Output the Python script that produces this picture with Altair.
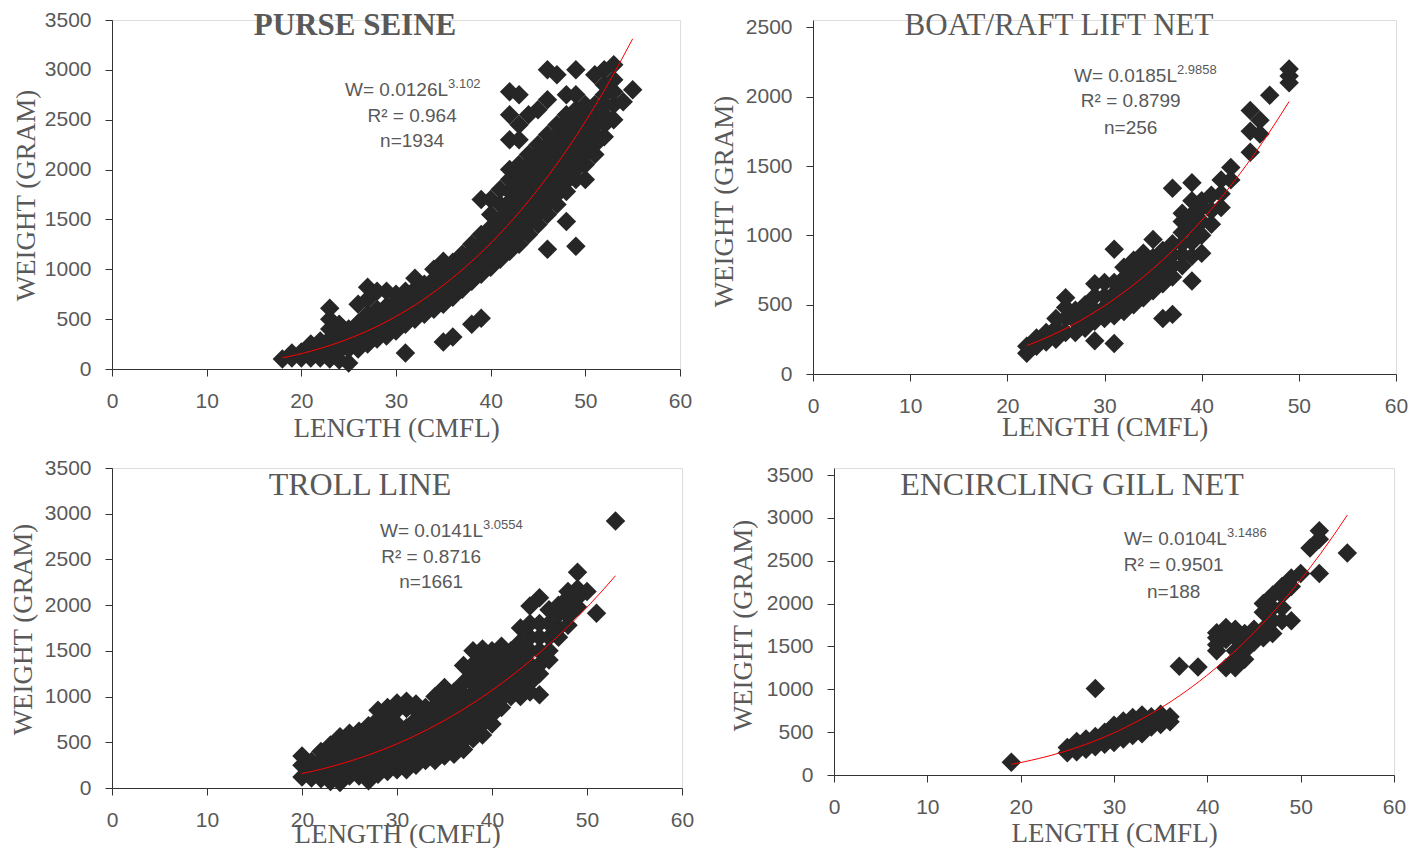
import altair as alt
import pandas as pd

# ---------------- data ----------------
# PURSE SEINE
PS_LEN = [18, 19, 20, 21, 22, 23, 24, 25, 26, 27, 28, 29, 30, 31, 32, 33, 34, 35, 36, 37,
          38, 39, 40, 41, 42, 43, 44, 45, 46, 47, 48, 49, 50, 51, 52, 53, 54, 55]
PS_WT = [
    [100], [110, 160], [110, 170], [110, 180, 250], [110, 200, 280],
    [100, 200, 300, 400, 500, 610], [90, 180, 280, 380, 450], [60, 200, 300, 400],
    [200, 300, 400, 460, 650], [250, 350, 450, 550, 700, 820], [300, 400, 500, 600, 780],
    [330, 430, 530, 630, 780], [380, 480, 580, 680, 750], [160, 450, 550, 650, 780],
    [500, 600, 700, 800, 910], [550, 650, 750, 850], [600, 700, 800, 900, 1000],
    [270, 650, 750, 850, 950, 1080], [320, 720, 820, 920, 1020, 1070],
    [800, 900, 1000, 1100, 1150], [450, 880, 980, 1080, 1180, 1250],
    [510, 950, 1050, 1150, 1250, 1350, 1700], [1020, 1120, 1220, 1320, 1420, 1550, 1700],
    [1100, 1200, 1300, 1400, 1500, 1650, 1800],
    [1180, 1280, 1380, 1480, 1580, 1680, 1780, 1900, 2000, 2300, 2550, 2780],
    [1250, 1350, 1450, 1550, 1650, 1750, 1850, 1950, 2050, 2300, 2450, 2750],
    [1350, 1450, 1550, 1650, 1750, 1850, 1950, 2050, 2150, 2550],
    [1450, 1550, 1650, 1750, 1850, 1950, 2050, 2150, 2250, 2600],
    [1200, 1550, 1650, 1750, 1850, 1950, 2050, 2150, 2250, 2350, 2700, 3000],
    [1650, 1750, 1850, 1950, 2050, 2150, 2250, 2350, 2450, 2950],
    [1480, 1780, 1880, 1980, 2080, 2180, 2280, 2380, 2480, 2550, 2750],
    [1230, 1900, 2000, 2100, 2200, 2300, 2400, 2500, 2600, 2750, 3000],
    [1900, 2050, 2150, 2250, 2350, 2450, 2550, 2650],
    [2150, 2250, 2350, 2450, 2550, 2650, 2950],
    [2330, 2450, 2550, 2650, 2750, 2850, 3000],
    [2500, 2650, 2780, 2900, 3050], [2680], [2800],
]

# BOAT/RAFT LIFT NET
BR_LEN = [22, 23, 24, 25, 26, 27, 28, 29, 30, 31, 32, 33, 34, 35, 36, 37, 38, 39, 40, 41,
          42, 43, 45, 46, 47, 49]
BR_WT = [
    [150, 200], [200, 260], [230, 300], [250, 330, 400], [300, 400, 480, 550],
    [300, 380, 460], [330, 420, 500], [240, 380, 460, 560, 650], [400, 480, 560, 660],
    [220, 420, 500, 580, 660, 900], [450, 530, 610, 690, 770], [500, 580, 660, 740, 820],
    [550, 630, 710, 790, 870], [600, 680, 760, 840, 970], [400, 650, 730, 810, 890],
    [430, 700, 780, 860, 940, 1340], [780, 860, 940, 1020, 1100, 1160],
    [670, 850, 950, 1050, 1150, 1250, 1380], [870, 1000, 1100, 1200, 1250],
    [1080, 1180, 1290], [1200, 1300, 1400], [1400, 1490], [1600, 1750, 1900],
    [1730, 1830], [2010], [2100, 2150, 2200],
]

# TROLL LINE
TL_LEN = [20, 21, 22, 23, 24, 25, 26, 27, 28, 29, 30, 31, 32, 33, 34, 35, 36, 37, 38, 39,
          40, 41, 42, 43, 44, 45, 46, 47, 48, 49, 50, 51, 53]
TL_WT = [
    [120, 250, 350], [110, 200, 290], [100, 200, 300, 400], [70, 170, 270, 370, 470],
    [60, 160, 260, 360, 460, 560], [130, 230, 330, 430, 530, 600],
    [130, 230, 330, 430, 530, 620], [80, 180, 280, 380, 480, 580, 680],
    [150, 250, 350, 450, 550, 650, 750, 850], [180, 280, 380, 480, 580, 680, 780, 880],
    [200, 300, 400, 500, 600, 700, 850, 930], [200, 300, 400, 500, 600, 660, 870, 950],
    [250, 350, 450, 550, 650, 750, 850, 920], [300, 400, 500, 600, 700, 800, 880],
    [300, 400, 500, 600, 700, 800, 900, 1000], [350, 450, 550, 650, 750, 850, 950, 1100],
    [370, 470, 570, 670, 770, 870, 970, 1050],
    [420, 520, 620, 720, 820, 920, 1020, 1150, 1340],
    [540, 640, 740, 840, 940, 1040, 1140, 1250, 1350, 1500],
    [580, 700, 800, 900, 1000, 1100, 1200, 1300, 1400, 1520],
    [700, 800, 900, 1000, 1100, 1200, 1300, 1400, 1500],
    [880, 980, 1080, 1180, 1280, 1380, 1480, 1550],
    [1000, 1100, 1200, 1300, 1400, 1500],
    [1000, 1100, 1200, 1300, 1450, 1600, 1750],
    [1050, 1150, 1250, 1350, 1500, 1650, 1800, 1990],
    [1020, 1250, 1350, 1500, 1650, 1800, 2080],
    [1400, 1500, 1650, 1800, 1950], [1650, 1750, 1900, 2000],
    [1780, 1880, 1980, 2080, 2150], [1980, 2080, 2180, 2360], [2150], [1910], [2920],
]

# ENCIRCLING GILL NET
EG_LEN = [19, 25, 26, 27, 28, 29, 30, 31, 32, 33, 34, 35, 36, 37, 39, 41, 42, 43, 44, 45,
          46, 47, 48, 49, 50, 51, 52, 55]
EG_WT = [
    [150], [260, 320], [270, 330, 390], [300, 360, 420], [330, 390, 450, 1010],
    [360, 430, 500], [380, 450, 520, 580], [420, 490, 560, 630], [460, 530, 600, 670],
    [480, 550, 620, 700], [560, 620, 680], [590, 650, 710], [620, 680], [1270], [1260],
    [1450, 1520, 1600, 1660], [1250, 1580, 1660, 1720], [1250, 1350, 1450, 1600, 1700],
    [1350, 1450, 1550, 1650], [1550, 1700], [1600, 1700, 1900, 2000],
    [1650, 1800, 1950, 2100], [1800, 1950, 2100, 2200], [1800, 2200, 2300], [2350],
    [2650], [2350, 2750, 2850], [2590],
]

TITLES = ["PURSE SEINE", "BOAT/RAFT LIFT NET", "TROLL LINE", "ENCIRCLING GILL NET"]
EQ_MAIN = ["W= 0.0126L", "W= 0.0185L", "W= 0.0141L", "W= 0.0104L"]
EQ_EXP = ["3.102", "2.9858", "3.0554", "3.1486"]
R2_TXT = ["R\u00b2 = 0.964", "R\u00b2 = 0.8799", "R\u00b2 = 0.8716", "R\u00b2 = 0.9501"]
N_TXT = ["n=1934", "n=256", "n=1661", "n=188"]
X_TICKS = [0, 10, 20, 30, 40, 50, 60]
Y_TICKS = [[0, 500, 1000, 1500, 2000, 2500, 3000, 3500],
           [0, 500, 1000, 1500, 2000, 2500],
           [0, 500, 1000, 1500, 2000, 2500, 3000, 3500],
           [0, 500, 1000, 1500, 2000, 2500, 3000, 3500]]

# ---------------- layout / style ----------------
TXT = "#595959"
INK = "#262626"
AXC = "#333333"

LAYOUT = [
    dict(w=568, h=349, ydom=3500, tx=243, ty=6, ts=31, bold=True, xty=67, ytx=-78, yty=175,
         ann=(31.7, 35.5, 2803, 2542, 2282)),
    dict(w=583, h=354, ydom=2553, tx=246, ty=6, ts=31, bold=False, xty=61, ytx=-81, yty=181,
         ann=(32.7, 37.46, 2151, 1967, 1772)),
    dict(w=570, h=320, ydom=3500, tx=248, ty=17, ts=32, bold=False, xty=54, ytx=-81, yty=161,
         ann=(33.6, 39.05, 2808, 2524, 2250)),
    dict(w=560, h=307, ydom=3582, tx=238, ty=17, ts=32, bold=False, xty=66, ytx=-83, yty=157,
         ann=(36.4, 42.1, 2757, 2453, 2138)),
]


def to_df(lens, wts):
    return pd.DataFrame([{"L": L, "W": w} for L, ws in zip(lens, wts) for w in ws])


def panel(i, df):
    c = LAYOUT[i]
    xs = alt.Scale(domain=[0, 60], nice=False)
    ys = alt.Scale(domain=[0, c["ydom"]], nice=False)
    common = dict(grid=False, domainColor=AXC, tickColor=AXC, tickSize=7, tickWidth=1,
                  domainWidth=1, labelFont="Liberation Sans", labelFontSize=21,
                  labelColor=TXT, labelFlush=False, labelOverlap=False, format="d",
                  titleFont="Liberation Serif", titleFontSize=27, titleFontWeight="normal",
                  titleColor=TXT, titleBaseline="alphabetic")
    xax = alt.Axis(values=X_TICKS, title="LENGTH (CMFL)", labelPadding=14,
                   titleX=c["w"] / 2, titleY=c["xty"], **common)
    yax = alt.Axis(values=Y_TICKS[i], title="WEIGHT (GRAM)", labelPadding=14,
                   titleX=c["ytx"], titleY=c["yty"], titleAngle=270, **common)

    pts = alt.Chart(df).mark_point(shape="diamond", filled=True, size=380, color=INK,
                                   opacity=1, strokeWidth=0).encode(
        x=alt.X("L:Q", scale=xs, axis=xax),
        y=alt.Y("W:Q", scale=ys, axis=yax))
    fit = alt.Chart(df).transform_regression("L", "W", method="pow").mark_line(
        color="#ff0000", strokeWidth=1).encode(x="L:Q", y="W:Q")

    a = c["ann"]
    main = alt.Chart(pd.DataFrame({"L": [a[1]], "W": [a[2]], "t": [EQ_MAIN[i]]})).mark_text(
        font="Liberation Sans", fontSize=19, color=TXT, align="right", baseline="middle"
    ).encode(x="L:Q", y="W:Q", text="t:N")
    sup = alt.Chart(pd.DataFrame({"L": [a[1]], "W": [a[2]], "t": [EQ_EXP[i]]})).mark_text(
        font="Liberation Sans", fontSize=13, color=TXT, align="left", baseline="middle", dy=-6
    ).encode(x="L:Q", y="W:Q", text="t:N")
    rest = alt.Chart(pd.DataFrame({"L": [a[0], a[0]], "W": [a[3], a[4]],
                                   "t": [R2_TXT[i], N_TXT[i]]})).mark_text(
        font="Liberation Sans", fontSize=19, color=TXT, align="center", baseline="middle"
    ).encode(x="L:Q", y="W:Q", text="t:N")
    ttl = alt.Chart(pd.DataFrame({"t": [TITLES[i]]})).mark_text(
        font="Liberation Serif", fontSize=c["ts"], fontWeight="bold" if c["bold"] else "normal",
        color=TXT, align="center", baseline="middle"
    ).encode(x=alt.value(c["tx"]), y=alt.value(c["ty"]), text="t:N")

    return alt.layer(pts, fit, main, sup, rest, ttl).properties(width=c["w"], height=c["h"])


dfs = [to_df(PS_LEN, PS_WT), to_df(BR_LEN, BR_WT), to_df(TL_LEN, TL_WT), to_df(EG_LEN, EG_WT)]
panels = [panel(i, d) for i, d in enumerate(dfs)]

row1 = alt.hconcat(panels[0], panels[1], spacing=16)
row2 = alt.hconcat(panels[2], panels[3], spacing=33)
chart = alt.vconcat(row1, row2, spacing=14).properties(
    padding={"left": 0, "top": 0, "right": 0, "bottom": 0}
).configure_view(stroke=None).configure(background="white")

chart.save("out.html", embed_options={"renderer": "svg", "actions": False})
